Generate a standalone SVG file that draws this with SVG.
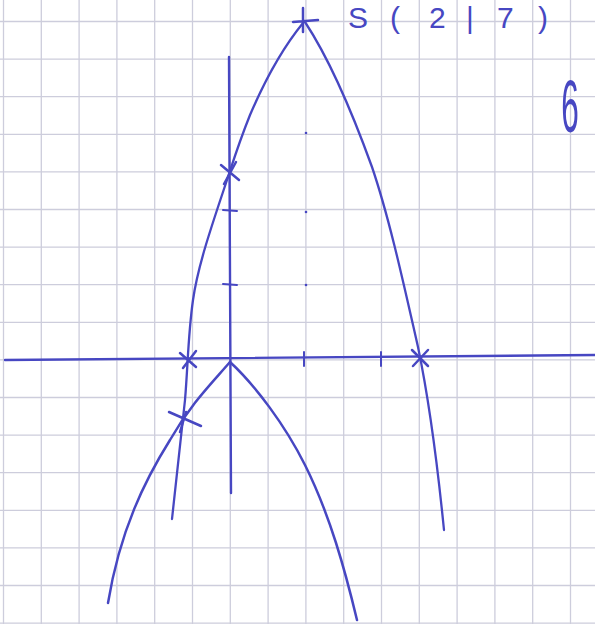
<svg xmlns="http://www.w3.org/2000/svg" width="595" height="624" viewBox="0 0 595 624">
<style>
.grid{stroke:#cdcddc;stroke-width:1.3;fill:none}
.pen{stroke:#4747c2;fill:none;stroke-linecap:round;stroke-linejoin:round}
.txt{fill:#4747c2;font-family:"Liberation Sans",Arial,sans-serif}
</style>
<rect width="595" height="624" fill="#ffffff"/>
<g id="grid" class="grid">
<path d="M3.5,0V624M41.3,0V624M79.1,0V624M116.9,0V624M154.7,0V624M192.5,0V624M230.3,0V624M268.1,0V624M305.9,0V624M343.7,0V624M381.5,0V624M419.3,0V624M457.1,0V624M494.9,0V624M532.7,0V624M570.5,0V624"/>
<path d="M0,21.5H595M0,59.1H595M0,96.7H595M0,134.3H595M0,171.9H595M0,209.5H595M0,247.1H595M0,284.7H595M0,322.3H595M0,359.9H595M0,397.5H595M0,435.1H595M0,472.7H595M0,510.3H595M0,547.9H595M0,585.5H595M0,623.1H595"/>
</g>
<g id="axes" class="pen" stroke-width="2.4">
<path d="M5,360 L595,355"/>
<path d="M229,57 L231,493"/>
<path d="M223,210 L237,211 M223,284 L237,285" stroke-width="2"/>
<path d="M304,352 L304,366 M381,352 L381,366" stroke-width="2"/>
</g>
<g id="dots" fill="#4747c2">
<circle cx="306" cy="133" r="1.3"/>
<circle cx="306" cy="212" r="1.3"/>
<circle cx="306" cy="285" r="1.3"/>
</g>
<g id="parabola1" class="pen" stroke-width="2.3">
<path d="M303,23 C285,45 265,80 250,115 C238,145 232,165 227,180 C212,225 198,265 193,300 C188,335 188,365 185,400 L172,519"/>
<path d="M305,22 C330,60 355,120 372,167 C390,220 405,290 418,347 C428,395 437,460 444,530"/>
</g>
<g id="parabola2" class="pen" stroke-width="2.5">
<path d="M230,362 C210,385 190,405 170,440 C145,480 120,530 108,603"/>
<path d="M230,362 C255,385 285,425 305,465 C330,515 345,570 357,620"/>
</g>
<g id="marks" class="pen" stroke-width="2.5">
<path d="M293,22 L318,20 M303,8 L303,32"/>
<path d="M221,165 L239,180 M236,162 L224,184"/>
<path d="M180,353 L196,367 M196,351 L183,368"/>
<path d="M412,350 L428,366 M428,350 L413,366"/>
<path d="M169,412 L201,426 M186,412 L180,432"/>
</g>
<g id="labels">
<text class="txt" font-size="30" x="348 390 429 466 497 538" y="28">S(2|7)</text>
<text class="txt" font-size="75" text-anchor="middle" transform="translate(570,132) scale(0.42,1)">6</text>
</g>
</svg>
